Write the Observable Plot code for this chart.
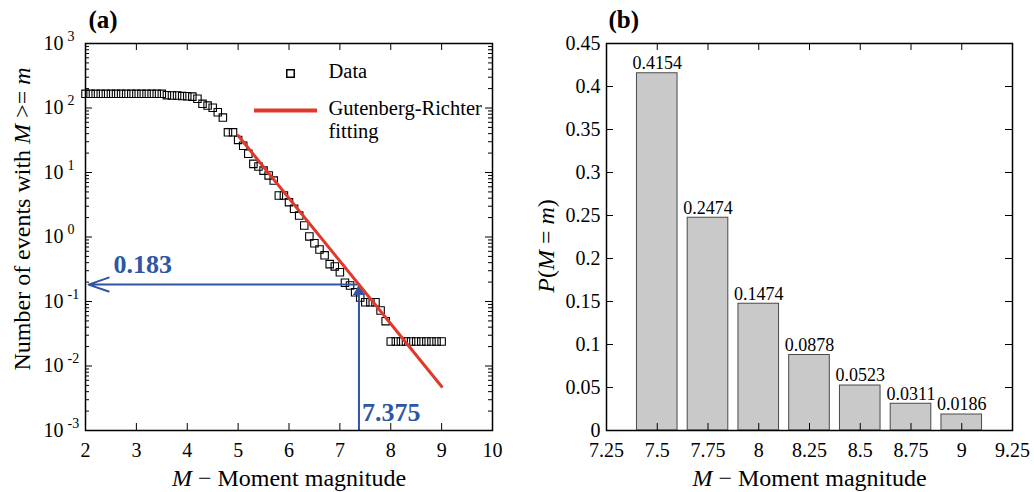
<!DOCTYPE html>
<html><head><meta charset="utf-8">
<script src="https://cdn.jsdelivr.net/npm/d3@7"></script>
<script src="https://cdn.jsdelivr.net/npm/@observablehq/plot@0.6"></script>
<style>
body{margin:0;background:#fff;}
#wrap{position:relative;width:1034px;height:492px;overflow:hidden;font-family:"Liberation Serif","Times New Roman",serif;}
.panel{position:absolute;top:0;}
</style></head><body><div id="wrap"></div>
<script>
// ---------- Panel (a): cumulative number of events ----------
const magnitudes = [2.0,2.1,2.2,2.3,2.4,2.5,2.6,2.7,2.8,2.9,3.0,3.1,3.2,3.3,3.4,3.5,3.6,3.7,3.8,3.9,
  4.0,4.1,4.2,4.3,4.4,4.5,4.6,4.7,4.8,4.9,5.0,5.1,5.2,5.3,5.4,5.5,5.6,5.7,5.8,5.9,
  6.0,6.1,6.2,6.3,6.4,6.5,6.6,6.7,6.8,6.9,7.0,7.1,7.2,7.3,7.4,7.5,7.6,7.7,7.8,7.9,
  8.0,8.1,8.2,8.3,8.4,8.5,8.6,8.7,8.8,8.9,9.0];
const eventCounts = [166,166,166,166,166,166,166,166,166,166,166,166,166,166,166,166,158,156,156,153,
  152,150,139,116,109,101,86,71,42,42,32,26,19.5,13.6,12.4,10.7,9.0,7.5,4.4,4.4,
  3.47,2.74,2.15,1.51,1.02,0.80,0.64,0.52,0.38,0.35,0.284,0.195,0.177,0.139,0.115,0.0975,0.0975,0.0975,0.0724,0.0495,
  0.024,0.024,0.024,0.024,0.024,0.024,0.024,0.024,0.024,0.024,0.024];
const fitMagnitudes = [5, 9];
const fitCounts = [37.4, 0.0048];
const markMagnitude = 7.375;
const markCount = 0.183;
const xTicksA = [2,3,4,5,6,7,8,9,10];
const yTicksA = [0.001,0.01,0.1,1,10,100,1000];
const legendLabels = ["Data", "Gutenberg-Richter", "fitting"];

// ---------- Panel (b): probability of magnitude ----------
const barMagnitudes = [7.5,7.75,8,8.25,8.5,8.75,9];
const barProbabilities = [0.4154,0.2474,0.1474,0.0878,0.0523,0.0311,0.0186];
const xTicksB = [7.25,7.5,7.75,8,8.25,8.5,8.75,9,9.25];
const yTicksB = [0,0.05,0.1,0.15,0.2,0.25,0.3,0.35,0.4,0.45];

const xLabel = "M − Moment magnitude";
const yLabelA = "Number of events with M >= m";
const yLabelB = "P(M = m)";

const RED = "#e0392b", BLUE = "#2f55a4";
const FONT = "'Liberation Serif', 'Times New Roman', serif";
const W = 517, H = 492;

// ---------- build panel (a) ----------
const mA = {l: 85, r: 25, t: 43, b: 62};
const fwA = W - mA.l - mA.r, fhA = H - mA.t - mA.b;
const dataA = magnitudes.map((m, i) => ({m, n: eventCounts[i]}));
const fitA = fitMagnitudes.map((m, i) => ({m, n: fitCounts[i]}));
const markA = [{m: markMagnitude, n: markCount}];
const minorA = [];
for (let k = -3; k < 3; k++) for (let j = 2; j <= 9; j++) minorA.push(j * Math.pow(10, k));
const lineSymbol = {draw(ctx) { ctx.moveTo(-31.5, 0); ctx.lineTo(31.5, 0); }};
const legendText = (label, dy) => Plot.text([label], {frameAnchor: "top-left", text: d => d,
  textAnchor: "start", lineAnchor: "middle", dx: 243, dy, fontSize: 20.5});

const plotA = Plot.plot({
  width: W, height: H,
  marginLeft: mA.l, marginRight: mA.r, marginTop: mA.t, marginBottom: mA.b,
  style: {fontFamily: FONT, fontSize: "20px", color: "black", background: "white"},
  x: {domain: [xTicksA[0], xTicksA[xTicksA.length - 1]]},
  y: {type: "log", domain: [yTicksA[0], yTicksA[yTicksA.length - 1]]},
  marks: [
    Plot.tickX(xTicksA, {x: d => d, insetTop: fhA - 7, stroke: "black"}),
    Plot.tickX(xTicksA, {x: d => d, insetBottom: fhA - 7, stroke: "black"}),
    Plot.tickY(yTicksA, {y: d => d, insetRight: fwA - 7, stroke: "black"}),
    Plot.tickY(yTicksA, {y: d => d, insetLeft: fwA - 7, stroke: "black"}),
    Plot.tickY(minorA, {y: d => d, insetRight: fwA - 4, stroke: "black"}),
    Plot.tickY(minorA, {y: d => d, insetLeft: fwA - 4, stroke: "black"}),
    Plot.axisX(xTicksA, {tickSize: 0, tickPadding: 12, label: null, tickFormat: d => String(d)}),
    Plot.axisY(yTicksA, {tickSize: 0, tickPadding: 42, textAnchor: "start", label: null,
      tickFormat: d => "10^" + Math.round(Math.log10(d))}),
    Plot.dot(dataA, {x: "m", y: "n", symbol: "square", r: 4.2, stroke: "black", strokeWidth: 1.1, fill: "none"}),
    Plot.link(markA, {x1: "m", x2: "m", y1: () => yTicksA[0], y2: "n", stroke: BLUE, strokeWidth: 2}),
    Plot.arrow(markA, {x1: "m", y1: "n", x2: () => xTicksA[0], y2: "n", stroke: BLUE, strokeWidth: 2,
      headLength: 16, headAngle: 38, insetEnd: 3}),
    Plot.dot(markA, {x: "m", y: "n", symbol: "triangle", r: 4.5, fill: BLUE, dy: 7}),
    Plot.line(fitA, {x: "m", y: "n", stroke: RED, strokeWidth: 3}),
    Plot.text(markA, {x: () => xTicksA[0], y: "n", text: d => String(d.n), textAnchor: "start",
      dx: 28, dy: -20, fill: BLUE, fontWeight: "bold", fontSize: 26}),
    Plot.text(markA, {x: "m", y: () => yTicksA[0], text: d => String(d.m), textAnchor: "start",
      dx: 3, dy: -18, fill: BLUE, fontWeight: "bold", fontSize: 26}),
    // legend
    Plot.dot([legendLabels[0]], {frameAnchor: "top-left", dx: 205, dy: 30, symbol: "square", r: 4.2,
      stroke: "black", strokeWidth: 1.5, fill: "none"}),
    Plot.dot([legendLabels[1]], {frameAnchor: "top-left", dx: 200, dy: 67, symbol: lineSymbol,
      stroke: RED, strokeWidth: 4, fill: "none"}),
    legendText(legendLabels[0], 28),
    legendText(legendLabels[1], 65),
    legendText(legendLabels[2], 88),
    // labels
    Plot.text([xLabel], {frameAnchor: "bottom", text: d => d, textAnchor: "middle", lineAnchor: "middle",
      dy: 48, fontSize: 24}),
    Plot.text([yLabelA], {frameAnchor: "left", text: d => d, textAnchor: "middle", lineAnchor: "middle",
      rotate: -90, dx: -63, dy: -18, fontSize: 24}),
    Plot.text(["(a)"], {frameAnchor: "top-left", text: d => d, textAnchor: "start", lineAnchor: "middle",
      dx: 3, dy: -24, fontWeight: "bold", fontSize: 25}),
    Plot.frame({stroke: "black", strokeWidth: 1.5})
  ]
});

// ---------- build panel (b) ----------
const mB = {l: 89, r: 22, t: 43, b: 62};
const fwB = W - mB.l - mB.r, fhB = H - mB.t - mB.b;
const bars = barMagnitudes.map((m, i) => ({m, p: barProbabilities[i]}));
const barHalf = 0.1;
const plotB = Plot.plot({
  width: W, height: H,
  marginLeft: mB.l, marginRight: mB.r, marginTop: mB.t, marginBottom: mB.b,
  style: {fontFamily: FONT, fontSize: "20px", color: "black", background: "white"},
  x: {domain: [xTicksB[0], xTicksB[xTicksB.length - 1]]},
  y: {domain: [yTicksB[0], yTicksB[yTicksB.length - 1]]},
  marks: [
    Plot.rectY(bars, {x1: d => d.m - barHalf, x2: d => d.m + barHalf, y: "p",
      fill: "#c9c9c9", stroke: "#4a4a4a", strokeWidth: 1}),
    Plot.text(bars, {x: "m", y: "p", text: d => d.p.toFixed(4), dy: -10, fontSize: 18}),
    Plot.tickX(xTicksB, {x: d => d, insetTop: fhB - 7, stroke: "black"}),
    Plot.tickX(xTicksB, {x: d => d, insetBottom: fhB - 7, stroke: "black"}),
    Plot.tickY(yTicksB, {y: d => d, insetRight: fwB - 7, stroke: "black"}),
    Plot.tickY(yTicksB, {y: d => d, insetLeft: fwB - 7, stroke: "black"}),
    Plot.axisX(xTicksB, {tickSize: 0, tickPadding: 12, label: null, tickFormat: d => String(d)}),
    Plot.axisY(yTicksB, {tickSize: 0, tickPadding: 6, label: null, tickFormat: d => String(d)}),
    Plot.text([xLabel], {frameAnchor: "bottom", text: d => d, textAnchor: "middle", lineAnchor: "middle",
      dy: 48, fontSize: 24}),
    Plot.text([yLabelB], {frameAnchor: "left", text: d => d, textAnchor: "middle", lineAnchor: "middle",
      rotate: -90, dx: -60, dy: 9, fontSize: 24}),
    Plot.text(["(b)"], {frameAnchor: "top-left", text: d => d, textAnchor: "start", lineAnchor: "middle",
      dx: 2, dy: -24, fontWeight: "bold", fontSize: 25}),
    Plot.frame({stroke: "black", strokeWidth: 1.5})
  ]
});

// ---------- rich text post-processing ----------
function richText(svg) {
  const rich = {
    [xLabel]: '<tspan font-style="italic">M</tspan> − Moment magnitude',
    [yLabelA]: 'Number of events with <tspan font-style="italic">M</tspan> &gt;= <tspan font-style="italic">m</tspan>',
    [yLabelB]: '<tspan font-style="italic">P</tspan>(<tspan font-style="italic">M</tspan> = <tspan font-style="italic">m</tspan>)'
  };
  svg.querySelectorAll("text").forEach(t => {
    const s = t.textContent;
    if (rich[s]) t.innerHTML = rich[s];
    const m = /^10\^(-?\d+)$/.exec(s);
    if (m) {
      t.textContent = "10";
      const ts = document.createElementNS("http://www.w3.org/2000/svg", "tspan");
      ts.setAttribute("dx", "4");
      ts.setAttribute("dy", "-9");
      ts.setAttribute("font-size", "14px");
      ts.textContent = m[1];
      t.appendChild(ts);
    }
  });
}
richText(plotA); richText(plotB);

const wrap = document.getElementById("wrap");
plotA.classList.add("panel"); plotA.style.left = "0px";
plotB.classList.add("panel"); plotB.style.left = W + "px";
wrap.appendChild(plotA); wrap.appendChild(plotB);
</script></body></html>
